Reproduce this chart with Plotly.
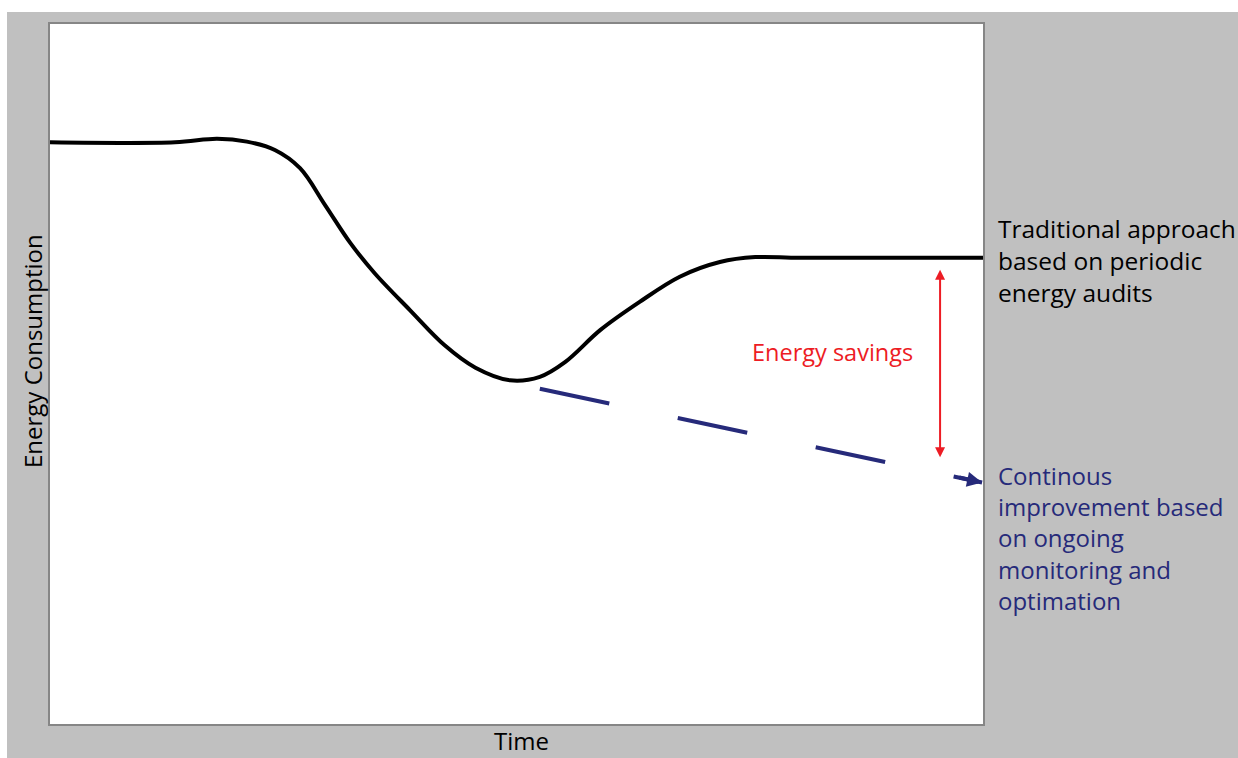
import plotly.graph_objects as go

# Traditional approach curve (time vs energy consumption, arbitrary units 0-100)
trad_time = [0, 13.4, 17.9, 21.1, 24.1, 26.8, 29.5, 32.2, 34.8, 38.6, 42.3, 45.6,
             49.3, 52.5, 55.2, 59.0, 63.2, 67.5, 71.8, 75.6, 80.4, 100]
trad_energy = [83.1, 83.1, 83.6, 83.2, 82.0, 79.4, 74.1, 68.7, 64.4, 59.1, 54.1, 50.9,
               49.1, 49.6, 51.7, 56.3, 60.3, 63.9, 66.0, 66.7, 66.6, 66.6]

# Continuous improvement trend (dashed)
cont_time = [52.5, 99.9]
cont_energy = [47.9, 34.5]

# Energy savings marker
savings_time = 95.4
savings_top = 65.1
savings_bottom = 38.1

trad_label = "Traditional approach<br>based on periodic<br>energy audits"
cont_label = "Continous<br>improvement based<br>on ongoing<br>monitoring and<br>optimation"
savings_label = "Energy savings"
x_title = "Time"
y_title = "Energy Consumption"

FONT = "Open Sans"
FS = 24
BLACK = "#000000"
NAVY = "#262A7A"
RED = "#ED1C24"
GRAY_BG = "#C0C0C0"

fig = go.Figure()

fig.add_trace(go.Scatter(
    x=trad_time, y=trad_energy, mode="lines",
    line=dict(color=BLACK, width=4, shape="spline", smoothing=1.0),
    hoverinfo="skip", showlegend=False, cliponaxis=False,
))

fig.add_trace(go.Scatter(
    x=cont_time, y=cont_energy, mode="lines",
    line=dict(color=NAVY, width=4, dash="71px,70px"),
    hoverinfo="skip", showlegend=False,
))

# arrowhead on the dashed line
fig.add_annotation(
    x=cont_time[-1], y=cont_energy[-1], ax=cont_time[-1] - 2.6, ay=cont_energy[-1] + 0.75,
    xref="x", yref="y", axref="x", ayref="y", text="", showarrow=True,
    arrowhead=2, arrowsize=0.75, arrowwidth=4, arrowcolor=NAVY, standoff=0,
)

# double-headed savings arrow
fig.add_annotation(
    x=savings_time, y=savings_bottom, ax=savings_time, ay=savings_top,
    xref="x", yref="y", axref="x", ayref="y", text="", showarrow=True,
    arrowhead=2, startarrowhead=2, arrowside="end+start", arrowsize=1, startarrowsize=1,
    arrowwidth=2, arrowcolor=RED, standoff=0, startstandoff=0,
)

fig.add_annotation(
    x=(832 - 50) / 933, y=(724 - 352) / 700, xref="paper", yref="paper",
    text=savings_label, showarrow=False,
    font=dict(family=FONT, size=FS - 0.5, color=RED), xanchor="center", yanchor="middle",
)

fig.add_annotation(
    x=(996 - 50) / 933, y=(724 - 210) / 700, xref="paper", yref="paper",
    text=trad_label, showarrow=False, align="left", xanchor="left", yanchor="top",
    font=dict(family=FONT, size=FS + 0.5, color=BLACK),
)

fig.add_annotation(
    x=(996 - 50) / 933, y=(724 - 457) / 700, xref="paper", yref="paper",
    text=cont_label, showarrow=False, align="left", xanchor="left", yanchor="top",
    font=dict(family=FONT, size=FS, color=NAVY),
)

fig.add_annotation(
    x=(521 - 50) / 933, y=(724 - 740) / 700, xref="paper", yref="paper",
    text=x_title, showarrow=False, xanchor="center", yanchor="middle",
    font=dict(family=FONT, size=FS, color=BLACK),
)

fig.add_annotation(
    x=(32 - 50) / 933, y=(724 - 351) / 700, xref="paper", yref="paper",
    text=y_title, showarrow=False, xanchor="center", yanchor="middle", textangle=-90,
    font=dict(family=FONT, size=FS, color=BLACK),
)

# white strips along the top and left of the page
fig.add_shape(type="rect", xref="paper", yref="paper", x0=-0.2, x1=1.5,
              y0=1 + 12 / 700, y1=1.2,
              fillcolor="white", line=dict(width=0), layer="below")
fig.add_shape(type="rect", xref="paper", yref="paper", x0=-0.2, x1=-43 / 933,
              y0=-0.2, y1=1.2,
              fillcolor="white", line=dict(width=0), layer="below")

axis_common = dict(range=[0, 100], showgrid=False, zeroline=False, showticklabels=False,
                   ticks="", showline=True, mirror=True, linecolor="#868686", linewidth=2,
                   fixedrange=True)

fig.update_layout(
    width=1238, height=758,
    margin=dict(l=50, r=255, t=24, b=34),
    paper_bgcolor=GRAY_BG, plot_bgcolor="white",
    xaxis=axis_common, yaxis=axis_common,
    showlegend=False,
)

fig.write_html(
    "out.html",
    config={"displayModeBar": False},
    post_script=(
        "document.body.style.margin='0';"
        "document.body.style.overflow='hidden';"
        "document.documentElement.style.overflow='hidden';"
    ),
)
